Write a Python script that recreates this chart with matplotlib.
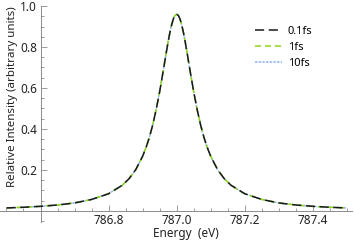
import numpy as np
import matplotlib
matplotlib.use("Agg")
import matplotlib.pyplot as plt
from matplotlib.ticker import MultipleLocator, FixedLocator

plt.rcParams['font.family'] = ['Noto Sans', 'DejaVu Sans']

# energy grid (eV) and intensity; the three runs overlap
energy = [786.50, 786.55, 786.60, 786.65, 786.70, 786.75, 786.80, 786.84,
          786.86, 786.88, 786.90, 786.91, 786.92, 786.93, 786.94, 786.95,
          786.96, 786.97, 786.975, 786.98, 786.985, 786.99, 786.995, 787.00,
          787.005, 787.01, 787.015, 787.02, 787.025, 787.03, 787.04, 787.05,
          787.06, 787.07, 787.08, 787.09, 787.10, 787.12, 787.14, 787.16,
          787.20, 787.25, 787.30, 787.35, 787.40, 787.45, 787.50]
intensity = [0.0145, 0.0179, 0.0225, 0.029, 0.039, 0.056, 0.084, 0.125,
             0.157, 0.202, 0.267, 0.309, 0.360, 0.422, 0.496, 0.582,
             0.678, 0.778, 0.826, 0.870, 0.907, 0.936, 0.954, 0.960,
             0.954, 0.936, 0.907, 0.870, 0.826, 0.778, 0.678, 0.582,
             0.496, 0.422, 0.360, 0.309, 0.267, 0.202, 0.157, 0.125,
             0.084, 0.056, 0.039, 0.029, 0.0225, 0.0179, 0.0145]
series = ["0.1fs", "1fs", "10fs"]

fig = plt.figure(figsize=(3.54, 2.45), dpi=100)
ax = fig.add_axes([0, 23 / 245, 1, 217 / 245])

axis_col = "#8c8c8c"
l3, = ax.plot(energy, intensity, color="#8fb4f2", lw=1.1, dashes=(1.6, 0.8), zorder=2)
l2, = ax.plot(energy, intensity, color="#8ed41a", lw=1.1, dashes=(4, 2.5), zorder=3)
l1, = ax.plot(energy, intensity, color="#1a1a1a", lw=1.1, dashes=(6, 3), zorder=4)

ax.set_xlim(786.481, 787.521)
ax.set_ylim(-0.054, 1.005)

for s in ["top", "right"]:
    ax.spines[s].set_visible(False)
ax.spines["left"].set_position(("data", 786.6))
ax.spines["bottom"].set_position(("data", 0))
ax.spines["left"].set_bounds(-0.054, 1.0)
ax.spines["bottom"].set_bounds(786.481, 787.515)
for s in ["left", "bottom"]:
    ax.spines[s].set_color(axis_col)
    ax.spines[s].set_linewidth(0.7)

ax.xaxis.set_major_locator(FixedLocator([786.8, 787.0, 787.2, 787.4]))
ax.xaxis.set_minor_locator(MultipleLocator(0.05))
ax.yaxis.set_major_locator(FixedLocator([0.2, 0.4, 0.6, 0.8, 1.0]))
ax.yaxis.set_minor_locator(MultipleLocator(0.05))
ax.xaxis.set_major_formatter(lambda v, p: f"{v:.1f}")
ax.yaxis.set_major_formatter(lambda v, p: f"{v:.1f}")
ax.tick_params(which="both", direction="in", color=axis_col, width=0.6,
               labelsize=8.5, labelcolor="#222222")
ax.tick_params(which="major", length=4, pad=2.5)
ax.tick_params(which="minor", length=2)

fig.text(186 / 354, 1 - 233 / 245, "Energy  (eV)", ha="center", va="center",
         fontsize=8.5, color="#222222")
fig.text(13 / 354, 1 - 97 / 245, "Relative Intensity (arbitrary units)",
         ha="center", va="center", rotation=90, fontsize=8.3, color="#222222")

ax.legend([l1, l2, l3], series, loc="upper left", bbox_to_anchor=(251 / 354, 0.925),
          frameon=False, fontsize=8, handlelength=2.4, handletextpad=0.5,
          labelspacing=0.45, borderaxespad=0)

fig.savefig("out.png", dpi=100)
